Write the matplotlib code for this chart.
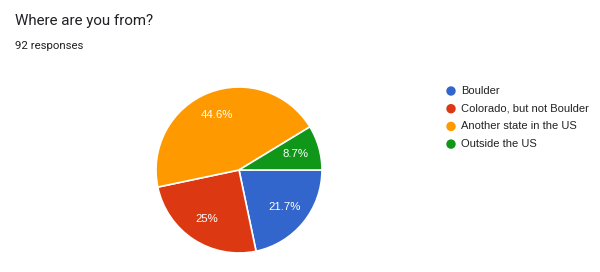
import matplotlib
matplotlib.use("Agg")
import matplotlib.pyplot as plt

plt.rcParams['font.family'] = ['Roboto', 'DejaVu Sans']

title = "Where are you from?"
subtitle = "92 responses"
categories = ["Boulder", "Colorado, but not Boulder", "Another state in the US", "Outside the US"]
values = [21.7, 25.0, 44.6, 8.7]
colors = ["#3366cc", "#dc3912", "#ff9900", "#109618"]

W, H = 600, 272
fig = plt.figure(figsize=(W / 100, H / 100), dpi=100)
fig.patch.set_facecolor("white")

arial = ['Liberation Sans', 'DejaVu Sans']

# Pie
cx, cy, r = 239, 170, 83
ax = fig.add_axes([(cx - r) / W, (H - cy - r) / H, 2 * r / W, 2 * r / H])
def fmt(p):
    s = f"{p:.1f}"
    if s.endswith(".0"):
        s = s[:-2]
    return s + "%"
wedges, texts, autotexts = ax.pie(
    values, colors=colors, startangle=0, counterclock=False,
    autopct=fmt, pctdistance=0.71,
    wedgeprops=dict(edgecolor="white", linewidth=1.2),
    textprops=dict(color="white", fontsize=8.2, family=arial),
    radius=1.0,
)
ax.set_xlim(-1.0, 1.0)
ax.set_ylim(-1.0, 1.0)
ax.set_aspect("equal")
ax.axis("off")

# Overlay for text and legend in pixel coordinates
ov = fig.add_axes([0, 0, 1, 1], zorder=5)
ov.set_xlim(0, W)
ov.set_ylim(H, 0)
ov.axis("off")
ov.patch.set_alpha(0)

ov.text(15, 21, title, fontsize=10.9, color="#202124", va="center", ha="left")
ov.text(15, 46, subtitle, fontsize=8.2, color="#202124", va="center", ha="left")

lx, ly0, dy = 451, 91, 17.7
for i, (cat, col) in enumerate(zip(categories, colors)):
    y = ly0 + i * dy
    ov.scatter([lx], [y], s=46, color=col, edgecolors="none")
    ov.text(lx + 10, y, cat, fontsize=8.0, color="#222222", va="center", ha="left",
            family=arial)

fig.savefig("out.png", dpi=100, facecolor="white")
